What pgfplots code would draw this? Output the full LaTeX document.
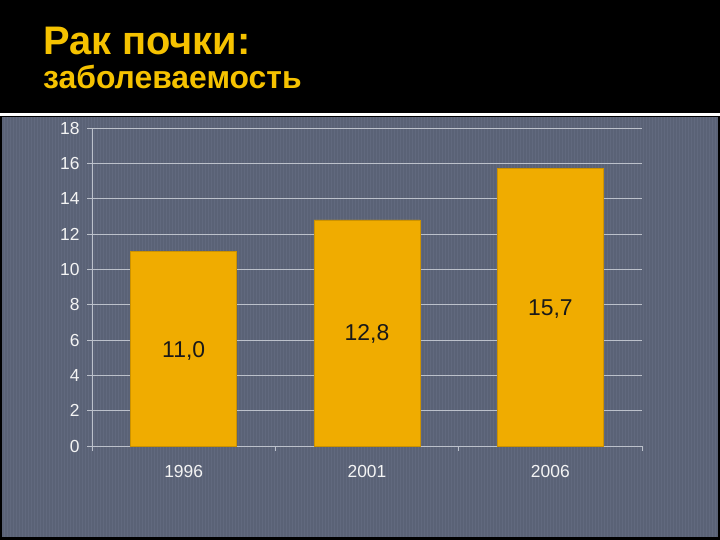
\documentclass[border=0pt]{standalone}
\usepackage{pgfplots}
\pgfplotsset{compat=1.18}
\usepackage{fontspec}
\setmainfont{Liberation Sans}
\definecolor{panel}{HTML}{5A6276}
\definecolor{panelhi}{HTML}{6B7388}
\definecolor{barc}{HTML}{F0AC00}
\definecolor{titlec}{HTML}{F5C200}
\definecolor{gridc}{HTML}{BCC1CB}
\definecolor{tickc}{HTML}{F4F4F4}
\pgfplotsset{
  common/.style={
    at={(92bp,-446bp)}, anchor=south west,
    scale only axis, width=550bp, height=318bp,
    xmin=-0.5, xmax=2.5, ymin=0, ymax=18,
  }
}
\begin{document}
\begin{tikzpicture}
\fill[black] (0bp,0bp) rectangle (720bp,-540bp);
\fill[white] (0bp,-112.5bp) rectangle (720bp,-116bp);
\fill[panel] (2bp,-117bp) rectangle (718bp,-537bp);
\foreach \i in {0,...,237} {
  \pgfmathsetmacro{\xx}{4+3*\i}
  \draw[panelhi, line width=0.7bp, opacity=0.45] (\xx bp,-117bp) -- ++(0bp,-420bp);
}
\node[anchor=base west, text=titlec, font=\fontsize{40}{44}\selectfont\bfseries, inner sep=0pt] at (43bp,-54bp) {Рак почки:};
\node[anchor=base west, text=titlec, font=\fontsize{32}{36}\selectfont\bfseries, inner sep=0pt] at (43bp,-88bp) {заболеваемость};
% axis frame, grid, ticks
\begin{axis}[
  common,
  axis lines*=left,
  axis line style={draw=gridc, line width=0.8bp},
  ymajorgrids, grid style={draw=gridc, line width=0.8bp},
  ytick={0,2,...,18},
  xtick={0,1,2}, xticklabels={1996,2001,2006},
  minor xtick={-0.5,0.5,1.5,2.5},
  major x tick style={draw=none},
  tick align=outside,
  major tick length=5bp, minor tick length=5bp,
  tick style={draw=gridc, line width=0.8bp},
  minor tick style={draw=gridc, line width=0.8bp},
  /pgf/number format/assume math mode=true,
  ticklabel style={font=\fontsize{17.5}{19}\selectfont, text=tickc},
  yticklabel style={xshift=-4bp},
  xticklabel style={yshift=-11bp},
]
\end{axis}
% bars over the grid
\begin{axis}[common, hide axis]
\addplot[ybar, bar width=106bp, fill=barc, draw=barc!85!black, line width=0.5bp] coordinates {(0,11.0) (1,12.8) (2,15.7)};
\node[font=\fontsize{23}{26}\selectfont, text=black!90] at (axis cs:0,5.4) {11,0};
\node[font=\fontsize{23}{26}\selectfont, text=black!90] at (axis cs:1,6.35) {12,8};
\node[font=\fontsize{23}{26}\selectfont, text=black!90] at (axis cs:2,7.75) {15,7};
\end{axis}
\end{tikzpicture}
\end{document}
